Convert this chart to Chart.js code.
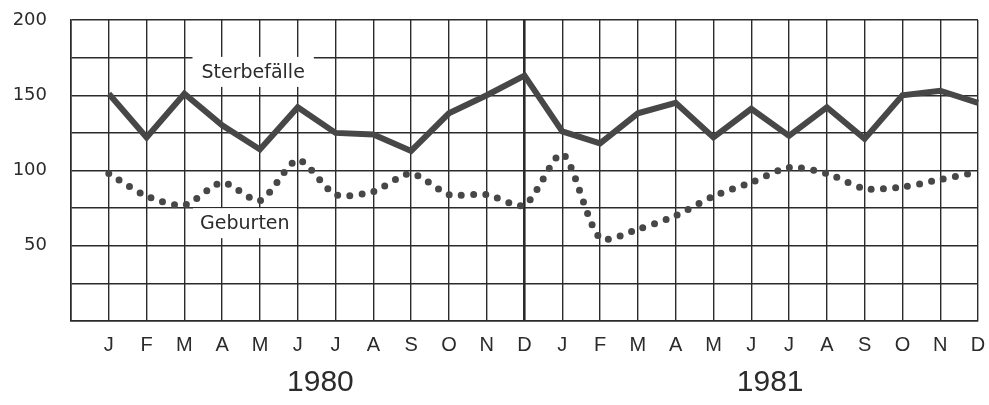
<!DOCTYPE html>
<html>
<head>
<meta charset="utf-8">
<script src="https://cdn.jsdelivr.net/npm/chart.js@4/dist/chart.umd.min.js"></script>
<style>
  html, body { margin: 0; padding: 0; background: #fff; }
  #wrap { width: 989px; height: 405px; position: relative; }
</style>
</head>
<body>
<div id="wrap"><canvas id="c" width="989" height="405"></canvas></div>
<script>
// ---- data ----
const months = ['J','F','M','A','M','J','J','A','S','O','N','D'];
const years = ['1980', '1981'];
const sterbefaelle1980 = [151, 122, 151, 130, 114, 142, 125, 124, 113, 138, 150, 163];
const sterbefaelle1981 = [126, 118, 138, 145, 122, 141, 123, 142, 121, 150, 153, 145];
const geburten1980 = [98, 83, 77, 92, 80, 107, 84, 86, 98, 84, 84, 77];
const geburten1981 = [111, 55, 61, 70, 83, 92, 102, 98, 88, 89, 94, 99];
const yTickLabels = [50, 100, 150, 200];
const seriesNames = ['Sterbefälle', 'Geburten'];

// leading empty slot = left edge of the grid
const labels = [''].concat(months, months);
const sterbe = [null].concat(sterbefaelle1980, sterbefaelle1981);
const geburt = [null].concat(geburten1980, geburten1981);

const INK = '#2b2b2b';
const LINE = '#474747';

const annotations = {
  id: 'annotations',
  beforeDatasetsDraw(chart) {
    const ctx = chart.ctx;
    const xs = chart.scales.x, ys = chart.scales.y;
    const items = [
      { text: seriesNames[0], xv: 4.82, yv: 165.5, padX: 9, h: 30 },
      { text: seriesNames[1], xv: 4.6, yv: 65, padX: 7, h: 30 }
    ];
    ctx.save();
    ctx.font = '19px "DejaVu Sans"';
    ctx.textAlign = 'center';
    ctx.textBaseline = 'middle';
    for (const it of items) {
      const cx = xs.getPixelForValue(it.xv);
      const cy = ys.getPixelForValue(it.yv);
      const w = ctx.measureText(it.text).width + it.padX * 2;
      ctx.fillStyle = '#fff';
      ctx.fillRect(cx - w / 2, cy - it.h / 2, w, it.h);
      ctx.fillStyle = INK;
      ctx.fillText(it.text, cx, cy + 1);
    }
    ctx.restore();
  },
  afterDraw(chart) {
    const ctx = chart.ctx;
    const xs = chart.scales.x;
    ctx.save();
    ctx.font = '30px "Liberation Sans"';
    ctx.textAlign = 'center';
    ctx.textBaseline = 'middle';
    ctx.fillStyle = INK;
    ctx.fillText(years[0], xs.getPixelForValue(6.6), 383);
    ctx.fillText(years[1], xs.getPixelForValue(18.5), 383);
    ctx.restore();
  }
};

new Chart(document.getElementById('c'), {
  type: 'line',
  data: {
    labels: labels,
    datasets: [
      {
        label: seriesNames[0],
        data: sterbe,
        borderColor: LINE,
        borderWidth: 6,
        borderJoinStyle: 'miter',
        pointRadius: 0,
        tension: 0,
        fill: false
      },
      {
        label: seriesNames[1],
        data: geburt,
        borderColor: LINE,
        borderWidth: 7,
        borderCapStyle: 'round',
        borderDash: [0, 12.2],
        pointRadius: 0,
        tension: 0.25,
        fill: false
      }
    ]
  },
  options: {
    responsive: false,
    animation: false,
    devicePixelRatio: 1,
    layout: { padding: { top: 20, right: 11, left: 0, bottom: 0 } },
    plugins: { legend: { display: false }, tooltip: { enabled: false } },
    scales: {
      x: {
        type: 'category',
        offset: false,
        afterFit(scale) {
          scale.height = 84;
          scale.paddingLeft = 0;
          scale.paddingRight = 0;
        },
        grid: {
          drawTicks: false,
          color: INK,
          lineWidth(ctx) { return ctx.index === 12 ? 2.6 : 1.4; }
        },
        border: { display: true, color: INK, width: 1.6 },
        ticks: {
          autoSkip: false,
          maxRotation: 0,
          padding: 12,
          color: INK,
          font: { family: '"Liberation Sans"', size: 20 }
        }
      },
      y: {
        min: 0,
        max: 200,
        afterFit(scale) {
          scale.width = 71;
          scale.paddingTop = 0;
          scale.paddingBottom = 0;
        },
        grid: { drawTicks: false, color: INK, lineWidth: 1.4 },
        border: { display: true, color: INK, width: 1.6 },
        ticks: {
          stepSize: 25,
          padding: 24,
          color: INK,
          font: { family: '"DejaVu Sans"', size: 18 },
          callback(v) { return yTickLabels.includes(v) ? String(v) : ''; }
        }
      }
    }
  },
  plugins: [annotations]
});
</script>
</body>
</html>
